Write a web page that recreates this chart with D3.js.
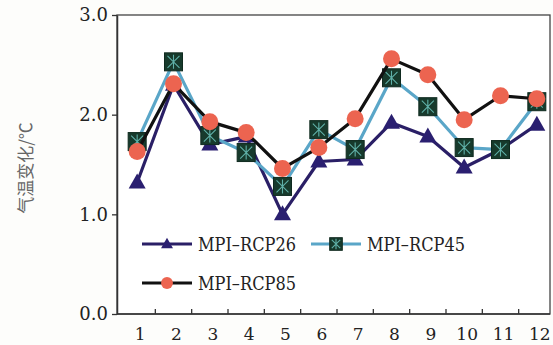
<!DOCTYPE html>
<html>
<head>
<meta charset="utf-8">
<script src="https://cdn.jsdelivr.net/npm/d3@7"></script>
<style>
	body { margin: 0; background: #fdfdfb; }
	svg { display: block; }
</style>
</head>
<body>
<div id="chart"></div>
<script>
var WIDTH = 553;
var HEIGHT = 345;

// data
var months = [1, 2, 3, 4, 5, 6, 7, 8, 9, 10, 11, 12];
var rcp26 = [1.32, 2.3, 1.7, 1.78, 1.0, 1.53, 1.55, 1.92, 1.78, 1.47, 1.65, 1.9];
var rcp45 = [1.73, 2.53, 1.79, 1.62, 1.28, 1.85, 1.65, 2.37, 2.08, 1.67, 1.65, 2.13];
var rcp85 = [1.63, 2.31, 1.93, 1.82, 1.46, 1.67, 1.96, 2.56, 2.4, 1.95, 2.19, 2.16];
var yTicks = [0, 1, 2, 3];
var seriesNames = ["MPI\u2013RCP26", "MPI\u2013RCP45", "MPI\u2013RCP85"];

var margin = { top: 15, left: 117 };
var plotRight = 550;
var SERIF = "DejaVu Serif";

var svg = d3.select("#chart")
	.append("svg")
	.attr("width", WIDTH)
	.attr("height", HEIGHT);

var x = d3.scaleBand().domain(months).range([119, 555]);
var y = d3.scaleLinear().domain([0, 3]).range([314, margin.top]);
var cx = function(d) { return x(d) + x.bandwidth() / 2; };

// frame
svg.append("rect")
	.attr("x", margin.left).attr("y", margin.top)
	.attr("width", plotRight - margin.left)
	.attr("height", y(0) - margin.top)
	.attr("fill", "#fff")
	.attr("stroke", "#444")
	.attr("stroke-width", 1.3);

// y axis
var yAxis = svg.append("g")
	.attr("transform", `translate(${margin.left},0)`)
	.call(d3.axisLeft(y).tickValues(yTicks).tickFormat(d3.format(".1f")).tickSize(5).tickSizeOuter(0))
	.attr("font-family", SERIF);
yAxis.select(".domain").attr("stroke", "#333").attr("stroke-width", 1.5);
yAxis.selectAll(".tick line").attr("stroke", "#333").attr("stroke-width", 1.3);
yAxis.selectAll(".tick text")
	.attr("x", -9)
	.style("font-family", SERIF)
	.style("font-size", "18px")
	.attr("fill", "#222");

// x axis: ticks between months, pointing inward
var xAxis = svg.append("g")
	.attr("transform", `translate(0,${y(0)})`);
xAxis.append("line")
	.attr("x1", margin.left).attr("x2", plotRight)
	.attr("stroke", "#333").attr("stroke-width", 1.5);
xAxis.selectAll(".xtick")
	.data(months.slice(1))
	.join("line")
	.attr("class", "xtick")
	.attr("x1", d => x(d)).attr("x2", d => x(d))
	.attr("y1", 0).attr("y2", -5)
	.attr("stroke", "#333").attr("stroke-width", 1.3);
xAxis.selectAll(".xlabel")
	.data(months)
	.join("text")
	.attr("class", "xlabel")
	.attr("x", d => cx(d) + 3)
	.attr("y", 26)
	.attr("text-anchor", "middle")
	.style("font-family", SERIF)
	.style("font-size", "17px")
	.attr("fill", "#222")
	.text(d => d);

// y label
svg.append("text")
	.attr("transform", "rotate(-90)")
	.attr("x", -168)
	.attr("y", 32)
	.attr("text-anchor", "middle")
	.style("font-family", "'Noto Sans CJK SC', sans-serif")
	.style("font-size", "17px")
	.attr("fill", "#666")
	.text("气温变化/℃");

var plot = svg.append("g");

function drawLine(values, color) {
	var line = d3.line()
		.x((d, i) => cx(months[i]))
		.y(d => y(d));
	plot.append("path")
		.datum(values)
		.attr("d", line)
		.attr("fill", "none")
		.attr("stroke", color)
		.attr("stroke-width", 3.2)
		.attr("stroke-linejoin", "round");
}

function triangle(g, px, py, k) {
	k = k || 1;
	g.append("path")
		.attr("d", `M${px},${py - 9 * k}L${px + 8.5 * k},${py + 6 * k}L${px - 8.5 * k},${py + 6 * k}Z`)
		.attr("fill", "#2a1f70");
}

function square(g, px, py, k) {
	k = k || 1;
	var s = 9 * k;
	g.append("rect")
		.attr("x", px - s).attr("y", py - s)
		.attr("width", s * 2).attr("height", s * 2)
		.attr("fill", "#173a2c")
		.attr("stroke", "#0f2a1f").attr("stroke-width", 1);
	var a = 6 * k;
	g.append("path")
		.attr("d", `M${px},${py - a - 1}V${py + a + 1}M${px - a},${py - a}L${px + a},${py + a}M${px + a},${py - a}L${px - a},${py + a}`)
		.attr("stroke", "#5fb0a8").attr("stroke-width", 1.1);
}

function circle(g, px, py, k) {
	k = k || 1;
	g.append("circle")
		.attr("cx", px).attr("cy", py).attr("r", 8.5 * k)
		.attr("fill", "#ec6450");
}

// RCP26
drawLine(rcp26, "#2a1f66");
rcp26.forEach((v, i) => triangle(plot, cx(months[i]), y(v)));
// RCP45
drawLine(rcp45, "#5aa6c8");
rcp45.forEach((v, i) => square(plot, cx(months[i]), y(v)));
// RCP85
drawLine(rcp85, "#111");
rcp85.forEach((v, i) => circle(plot, cx(months[i]), y(v)));

// legend
var legend = svg.append("g");
var legendItems = [
	{ name: seriesNames[0], color: "#2a1f66", mark: triangle, x: 142, y: 244 },
	{ name: seriesNames[1], color: "#5aa6c8", mark: square, x: 311, y: 244 },
	{ name: seriesNames[2], color: "#111", mark: circle, x: 142, y: 283 }
];
legendItems.forEach(function(it) {
	legend.append("line")
		.attr("x1", it.x).attr("x2", it.x + 50)
		.attr("y1", it.y).attr("y2", it.y)
		.attr("stroke", it.color).attr("stroke-width", 3);
	it.mark(legend, it.x + 25, it.y, 0.7);
	legend.append("text")
		.attr("x", it.x + 56)
		.attr("y", it.y + 7)
		.attr("textLength", 98)
		.attr("lengthAdjust", "spacingAndGlyphs")
		.style("font-family", SERIF)
		.style("font-size", "18px")
		.attr("fill", "#222")
		.text(it.name);
});
</script>
</body>
</html>
